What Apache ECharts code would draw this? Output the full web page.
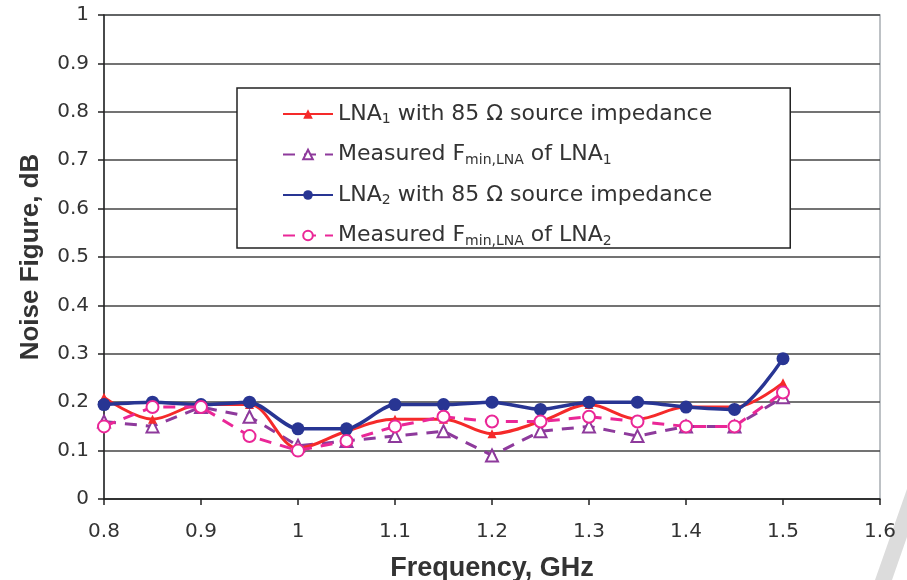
<!DOCTYPE html>
<html><head><meta charset="utf-8">
<script src="https://cdn.jsdelivr.net/npm/echarts@6/dist/echarts.min.js"></script>
<style>html,body{margin:0;padding:0;background:#fff}#c{width:907px;height:580px}</style>
</head><body><div id="c"></div>
<script>
const freq = [0.8,0.85,0.9,0.95,1.0,1.05,1.1,1.15,1.2,1.25,1.3,1.35,1.4,1.45,1.5];
const lna1 = [0.21,0.165,0.195,0.195,0.105,0.14,0.165,0.165,0.135,0.16,0.195,0.165,0.19,0.19,0.24];
const fmin1 = [0.16,0.15,0.19,0.17,0.11,0.12,0.13,0.14,0.09,0.14,0.15,0.13,0.15,0.15,0.21];
const lna2 = [0.195,0.2,0.195,0.2,0.145,0.145,0.195,0.195,0.2,0.185,0.2,0.2,0.19,0.185,0.29];
const fmin2 = [0.15,0.19,0.19,0.13,0.10,0.12,0.15,0.17,0.16,0.16,0.17,0.16,0.15,0.15,0.22];
const names = ['LNA1 with 85 Ω source impedance','Measured Fmin,LNA of LNA1','LNA2 with 85 Ω source impedance','Measured Fmin,LNA of LNA2'];
const pairs = a => freq.map((f,i)=>[f,a[i]]);
const chart = echarts.init(document.getElementById('c'));
const font = 'Liberation Sans, Arial, sans-serif';
const wide = 'DejaVu Sans, sans-serif';
chart.setOption({
  animation:false,
  grid:{left:104,right:27,top:15,bottom:81,show:true,borderColor:'#a8adb3',borderWidth:1.5,
        containLabel:false,outerBoundsMode:'none'},
  xAxis:{type:'value',min:0.8,max:1.6,interval:0.1,
    axisLine:{lineStyle:{color:'#222',width:1.5}},
    axisTick:{show:true,length:6,lineStyle:{color:'#222',width:1.5}},
    splitLine:{show:false},
    axisLabel:{color:'#333',fontSize:20,fontFamily:wide,margin:23},
    name:'Frequency, GHz',nameLocation:'middle',nameGap:56,
    nameTextStyle:{color:'#333',fontSize:27,fontWeight:'bold',fontFamily:font}},
  yAxis:{type:'value',min:0,max:1,interval:0.1,
    axisLine:{show:true,lineStyle:{color:'#222',width:1.5}},
    axisTick:{show:true,length:6,lineStyle:{color:'#222',width:1.5}},
    splitLine:{show:true,lineStyle:{color:'#444',width:1.5}},
    axisLabel:{color:'#333',fontSize:20,fontFamily:wide,margin:15},
    name:'Noise Figure, dB',nameLocation:'middle',nameGap:60,
    nameTextStyle:{color:'#333',fontSize:26,fontWeight:'bold',fontFamily:font}},
  legend:{orient:'vertical',left:237,top:88,
    backgroundColor:'#fff',borderColor:'#222',borderWidth:1.5,
    padding:[15,78,0,45],itemGap:17,itemWidth:50,itemHeight:12,
    data:names,
    formatter:function(n){
      if(n===names[0]) return '{n|LNA}{s|1}{n| with 85 Ω source impedance}';
      if(n===names[1]) return '{n|Measured F}{s|min,LNA}{n| of LNA}{s|1}';
      if(n===names[2]) return '{n|LNA}{s|2}{n| with 85 Ω source impedance}';
      return '{n|Measured F}{s|min,LNA}{n| of LNA}{s|2}';
    },
    textStyle:{color:'#333',fontFamily:wide,
      rich:{n:{fontSize:22,fontFamily:wide,color:'#333',height:26},
            s:{fontSize:14,fontFamily:wide,color:'#333',padding:[11,0,0,0],height:26}}}},
  graphic:[{type:'polygon',shape:{points:[[875,580],[907,489],[907,537],[892,580]]},style:{fill:'#dcdcdc'},z:-1}],
  series:[
    {name:names[0],type:'line',data:pairs(lna1),smooth:0.35,
     lineStyle:{color:'#f52a2a',width:3},itemStyle:{color:'#f52a2a'},
     symbol:'triangle',symbolSize:9,z:3},
    {name:names[1],type:'line',data:pairs(fmin1),
     lineStyle:{color:'#8e3a9c',width:3,type:[12,9]},itemStyle:{color:'#fff',borderColor:'#8e3a9c',borderWidth:2},
     symbol:'triangle',symbolSize:12,z:2},
    {name:names[2],type:'line',data:pairs(lna2),smooth:0.25,
     lineStyle:{color:'#283593',width:3.5},itemStyle:{color:'#283593'},
     symbol:'circle',symbolSize:13,z:4},
    {name:names[3],type:'line',data:pairs(fmin2),
     lineStyle:{color:'#ea2797',width:3,type:[12,9]},itemStyle:{color:'#fff',borderColor:'#ea2797',borderWidth:2},
     symbol:'circle',symbolSize:12,z:5}
  ]
});
</script></body></html>
